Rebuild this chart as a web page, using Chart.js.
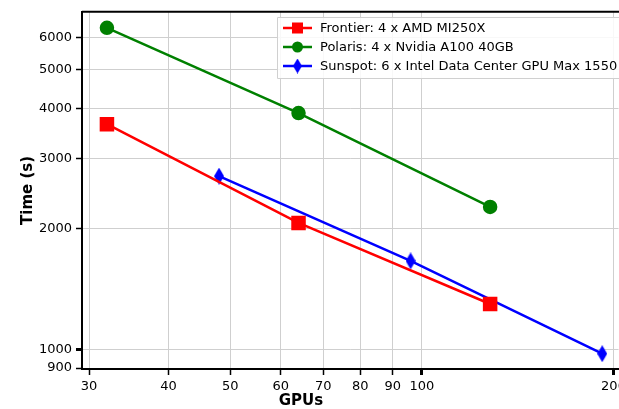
<!DOCTYPE html>
<html>
<head>
<meta charset="utf-8">
<script src="https://cdn.jsdelivr.net/npm/chart.js@4"></script>
<style>
  html, body { margin: 0; padding: 0; background: #fff; overflow: hidden; }
  #wrap { width: 619px; height: 409px; overflow: hidden; }
</style>
</head>
<body>
<div id="wrap"><canvas id="chartScaling" width="619" height="409"></canvas></div>
<script>
const gpusFrontier = [32, 64, 128];
const timeFrontier = [3650, 2070, 1300];
const gpusPolaris = [32, 64, 128];
const timePolaris = [6350, 3890, 2270];
const gpusSunspot = [48, 96, 192];
const timeSunspot = [2710, 1665, 977];
const xTicks = [30, 40, 50, 60, 70, 80, 90, 100, 200];
const yTicks = [900, 1000, 2000, 3000, 4000, 5000, 6000];
const labels = ['Frontier: 4 x AMD MI250X', 'Polaris: 4 x Nvidia A100 40GB', 'Sunspot: 6 x Intel Data Center GPU Max 1550'];

const FONT = 'DejaVu Sans';
const W = 619, H = 409;

// thin diamond marker like matplotlib 'd'
function thinDiamond(w, h, color) {
    const c = document.createElement('canvas');
    c.width = w; c.height = h;
    const g = c.getContext('2d');
    g.fillStyle = color;
    g.beginPath();
    g.moveTo(w / 2, 0);
    g.lineTo(w, h / 2);
    g.lineTo(w / 2, h);
    g.lineTo(0, h / 2);
    g.closePath();
    g.fill();
    return c;
}
const diamond = thinDiamond(10, 17, '#0000ff');
const diamondSmall = thinDiamond(9, 15, '#0000ff');

const pts = (xs, ys) => xs.map((x, i) => ({ x: x, y: ys[i] }));

// legend inside the plot (top right), x title and top spine
const boxLegend = {
    id: 'boxLegend',
    afterDraw(chart) {
        const ctx = chart.ctx;
        const x0 = 277, y0 = 17, rowH = 19;
        ctx.save();
        ctx.fillStyle = 'rgba(255,255,255,0.85)';
        ctx.strokeStyle = '#d0d0d0';
        ctx.lineWidth = 1;
        ctx.beginPath();
        ctx.rect(x0 + 0.5, y0 + 0.5, W - x0, 61);
        ctx.fill();
        ctx.stroke();
        chart.data.datasets.forEach((ds, i) => {
            const cy = y0 + 11 + i * rowH;
            ctx.strokeStyle = ds.borderColor;
            ctx.lineWidth = 2.5;
            ctx.beginPath();
            ctx.moveTo(283, cy);
            ctx.lineTo(312, cy);
            ctx.stroke();
            ctx.fillStyle = ds.borderColor;
            if (i === 0) {
                ctx.fillRect(292, cy - 5.5, 11, 11);
            } else if (i === 1) {
                ctx.beginPath();
                ctx.arc(297.5, cy, 5.5, 0, Math.PI * 2);
                ctx.fill();
            } else {
                ctx.drawImage(diamondSmall, 293, cy - 7.5);
            }
            ctx.fillStyle = '#000';
            ctx.font = '13px "' + FONT + '"';
            ctx.textBaseline = 'middle';
            ctx.textAlign = 'left';
            ctx.fillText(ds.label, 320, cy + 1);
        });
        // x axis title
        ctx.fillStyle = '#000';
        ctx.font = 'bold 15px "' + FONT + '"';
        ctx.textAlign = 'center';
        ctx.textBaseline = 'middle';
        ctx.fillText('GPUs', 301, 401);
        // top spine
        const a = chart.chartArea;
        ctx.strokeStyle = '#000';
        ctx.lineWidth = 2;
        ctx.beginPath();
        ctx.moveTo(a.left, a.top);
        ctx.lineTo(a.right + 2, a.top);
        ctx.stroke();
        ctx.restore();
    }
};

const ctx = document.getElementById('chartScaling').getContext('2d');
const chartScaling = new Chart(ctx, {
    type: 'line',
    data: {
        datasets: [
            {
                label: labels[0],
                data: pts(gpusFrontier, timeFrontier),
                borderColor: '#ff0000',
                backgroundColor: '#ff0000',
                borderWidth: 2.5,
                pointStyle: 'rect',
                pointRadius: 8.5,
            },
            {
                label: labels[1],
                data: pts(gpusPolaris, timePolaris),
                borderColor: '#008000',
                backgroundColor: '#008000',
                borderWidth: 2.5,
                pointStyle: 'circle',
                pointRadius: 6,
            },
            {
                label: labels[2],
                data: pts(gpusSunspot, timeSunspot),
                borderColor: '#0000ff',
                backgroundColor: '#0000ff',
                borderWidth: 2.5,
                pointStyle: diamond,
                pointRadius: 8,
            }
        ]
    },
    options: {
        responsive: false,
        maintainAspectRatio: false,
        animation: false,
        devicePixelRatio: 1,
        layout: { padding: { left: 15, top: 11, right: 0, bottom: 0 } },
        plugins: {
            legend: { display: false },
            tooltip: { enabled: false }
        },
        scales: {
            x: {
                type: 'logarithmic',
                min: 29.24,
                max: 203.7,
                afterBuildTicks: (s) => { s.ticks = xTicks.map(v => ({ value: v, major: v >= 100 })); },
                afterFit: (s) => { s.height = 40; },
                ticks: {
                    autoSkip: false,
                    maxRotation: 0,
                    padding: 4,
                    color: '#000',
                    font: { family: FONT, size: 13 },
                    callback: (v) => String(v)
                },
                grid: {
                    color: '#cfcfcf',
                    lineWidth: 1,
                    tickLength: 6,
                    tickColor: '#000',
                    tickWidth: (c) => (c.tick && c.tick.major ? 3 : 1.5)
                },
                border: { color: '#000', width: 2 },
                title: { display: false }
            },
            y: {
                type: 'logarithmic',
                min: 895,
                max: 6960,
                afterBuildTicks: (s) => { s.ticks = yTicks.map(v => ({ value: v, major: v === 1000 })); },
                afterFit: (s) => { s.width = 67; },
                ticks: {
                    autoSkip: false,
                    padding: 4,
                    color: '#000',
                    font: { family: FONT, size: 13 },
                    callback: (v) => String(v)
                },
                grid: {
                    color: '#cfcfcf',
                    lineWidth: 1,
                    tickLength: 6,
                    tickColor: '#000',
                    tickWidth: (c) => (c.tick && c.tick.major ? 3 : 1.5)
                },
                border: { color: '#000', width: 2 },
                title: {
                    display: true,
                    text: 'Time (s)',
                    color: '#000',
                    font: { family: FONT, size: 15, weight: 'bold' },
                    padding: { top: 4, bottom: 4 }
                }
            }
        }
    },
    plugins: [boxLegend]
});

// the plot runs off the right edge in the original: widen the canvas
// until the chart area ends at the window edge (the extra part is clipped)
let cw = W;
for (let i = 0; i < 3; i++) {
    const gap = W - chartScaling.chartArea.right;
    if (Math.abs(gap) < 0.5) break;
    cw += gap;
    chartScaling.resize(Math.round(cw), H);
}
</script>
</body>
</html>
